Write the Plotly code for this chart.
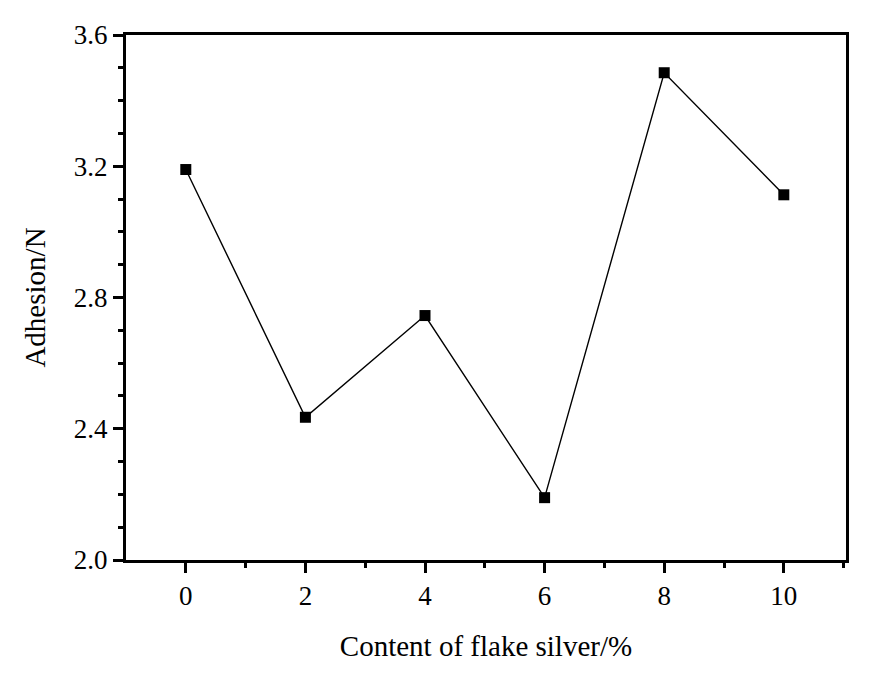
import plotly.graph_objects as go

content = [0, 2, 4, 6, 8, 10]
adhesion = [3.19, 2.435, 2.745, 2.19, 3.485, 3.113]

fig = go.Figure()
fig.add_trace(go.Scatter(
    x=content, y=adhesion, mode="lines+markers",
    line=dict(color="black", width=1.4),
    marker=dict(symbol="square", size=11, color="black"),
    showlegend=False,
))

tickfont = dict(family="Liberation Serif, Times New Roman, serif", size=27, color="black")
titlefont = dict(family="Liberation Serif, Times New Roman, serif", size=29, color="black")
fig.update_layout(
    width=856, height=663,
    margin=dict(l=118, r=18, t=24, b=111),
    paper_bgcolor="white", plot_bgcolor="white",
    font=tickfont,
)
fig.update_xaxes(
    range=[-1.0, 11.04], tickvals=[0, 2, 4, 6, 8, 10],
    showline=True, linecolor="black", linewidth=3, mirror=True,
    ticks="outside", ticklen=10, tickwidth=2.5, tickcolor="black",
    minor=dict(tickvals=[1, 3, 5, 7, 9, 11], ticks="outside", ticklen=5, tickwidth=2.5, tickcolor="black"),
    showgrid=False, zeroline=False, tickfont=tickfont,
    title=dict(text="Content of flake silver/%", standoff=26, font=titlefont),
)
fig.update_yaxes(
    range=[2.0, 3.6], tickvals=[2.0, 2.4, 2.8, 3.2, 3.6], ticktext=["2.0", "2.4", "2.8", "3.2", "3.6"],
    showline=True, linecolor="black", linewidth=3, mirror=True,
    ticks="outside", ticklen=10, tickwidth=2.5, tickcolor="black",
    minor=dict(dtick=0.1, ticks="outside", ticklen=5, tickwidth=2.5, tickcolor="black"),
    showgrid=False, zeroline=False, tickfont=tickfont,
    title=dict(text="Adhesion/N", standoff=20, font=titlefont),
)

fig.write_html("out.html")
